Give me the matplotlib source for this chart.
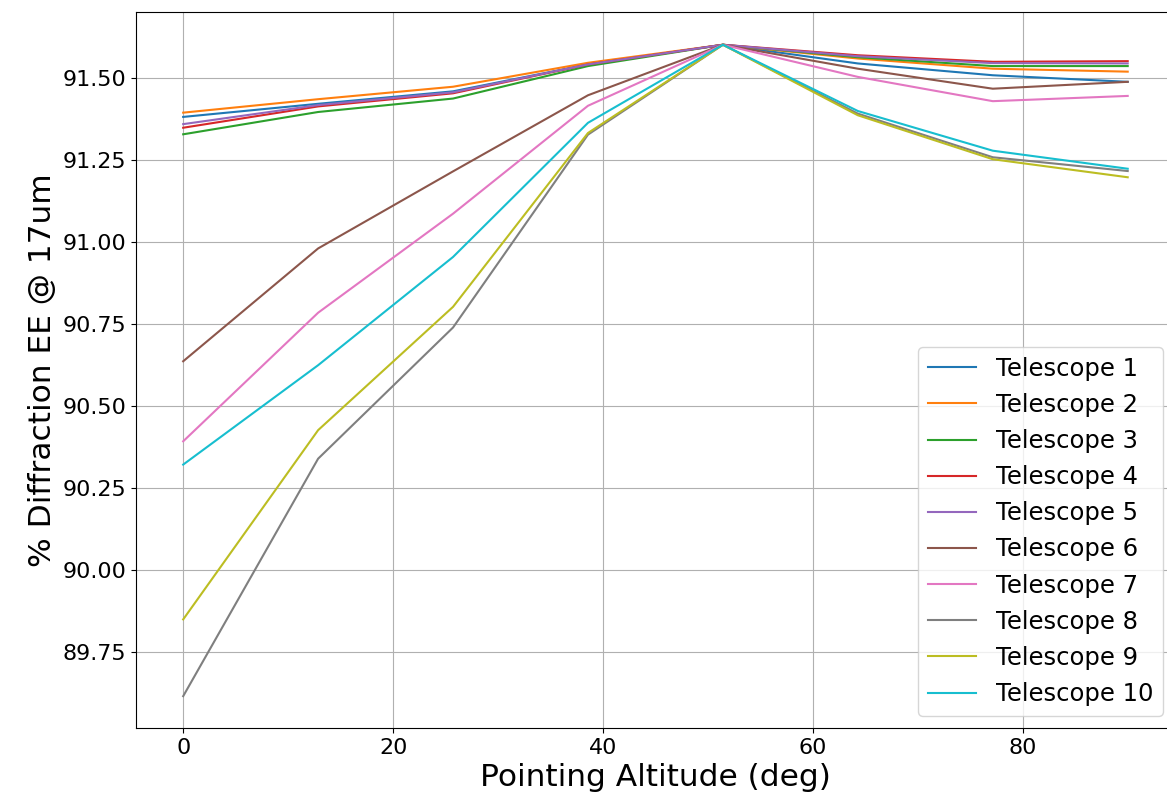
import matplotlib
matplotlib.use("Agg")
import matplotlib.pyplot as plt
import numpy as np

# pointing altitudes (deg)
altitude = [0, 12.857, 25.714, 38.571, 51.429, 64.286, 77.143, 90]

# % diffraction EE @ 17um per telescope
t1 = [91.380, 91.420, 91.458, 91.540, 91.600, 91.543, 91.507, 91.487]
t2 = [91.393, 91.434, 91.472, 91.545, 91.600, 91.558, 91.527, 91.518]
t3 = [91.327, 91.395, 91.436, 91.535, 91.600, 91.562, 91.535, 91.535]
t4 = [91.347, 91.412, 91.452, 91.540, 91.600, 91.568, 91.548, 91.550]
t5 = [91.358, 91.416, 91.455, 91.540, 91.600, 91.565, 91.544, 91.543]
t6 = [90.635, 90.979, 91.214, 91.446, 91.600, 91.527, 91.466, 91.487]
t7 = [90.391, 90.783, 91.085, 91.414, 91.600, 91.502, 91.428, 91.444]
t8 = [89.614, 90.338, 90.738, 91.326, 91.600, 91.390, 91.257, 91.215]
t9 = [89.848, 90.425, 90.801, 91.331, 91.600, 91.385, 91.251, 91.196]
t10 = [90.320, 90.623, 90.953, 91.362, 91.600, 91.398, 91.277, 91.222]

series = [t1, t2, t3, t4, t5, t6, t7, t8, t9, t10]
labels = ['Telescope %d' % (i + 1) for i in range(len(series))]

fig = plt.figure(figsize=(11.67, 7.97), dpi=100)
ax = fig.add_axes([0.1165, 0.0866, 0.8903, 0.8984])

for ys, lab in zip(series, labels):
    ax.plot(altitude, ys, label=lab, linewidth=1.5)

ax.set_xlim(-4.5, 94.5)
ax.set_ylim(89.517, 91.70)
ax.set_yticks([89.75, 90.00, 90.25, 90.50, 90.75, 91.00, 91.25, 91.50])
ax.yaxis.set_major_formatter(matplotlib.ticker.FormatStrFormatter('%.2f'))
ax.tick_params(labelsize=16)
ax.set_xlabel('Pointing Altitude (deg)', fontsize=22.5)
ax.set_ylabel('% Diffraction EE @ 17um', fontsize=22.5)
ax.grid(True)
ax.legend(loc='lower right', fontsize=17.5)

fig.savefig('out.png', dpi=100)
